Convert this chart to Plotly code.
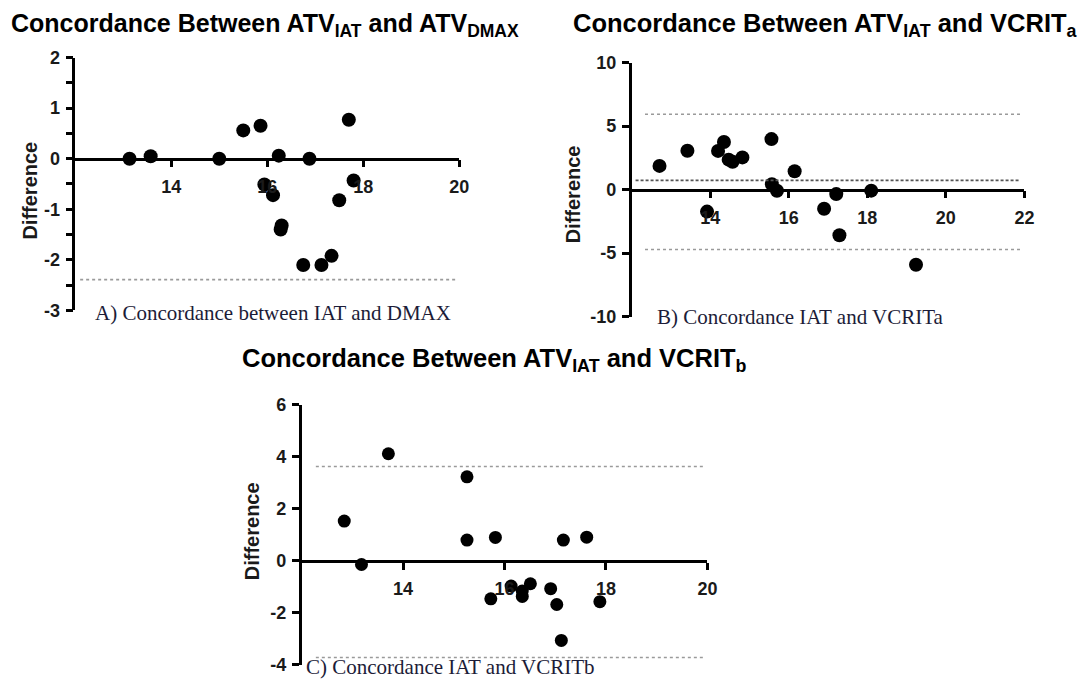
import plotly.graph_objects as go

PAGE_W, PAGE_H = 1086, 683
OFF = 8  # page body margin
W, H = PAGE_W - 2 * OFF, PAGE_H

# ---------------- data ----------------
# Panel A: ATV_IAT vs ATV_DMAX
a_mean = [13.13, 13.57, 15.0, 15.5, 15.86, 15.94, 16.12, 16.24, 16.3, 16.28,
          16.75, 16.88, 17.13, 17.34, 17.5, 17.7, 17.8]
a_diff = [0.0, 0.05, 0.0, 0.56, 0.65, -0.51, -0.72, 0.06, -1.32, -1.4,
          -2.1, 0.0, -2.1, -1.92, -0.82, 0.77, -0.43]
a_limits = [-2.39]
a_limit_x = [12.1, 19.95]

# Panel B: ATV_IAT vs VCRIT_a
b_mean = [12.71, 13.42, 13.92, 14.2, 14.35, 14.47, 14.57, 14.82, 15.56, 15.57,
          15.7, 16.15, 16.9, 17.21, 17.29, 18.1, 19.24]
b_diff = [1.86, 3.05, -1.74, 3.04, 3.74, 2.35, 2.18, 2.53, 3.97, 0.42,
          -0.1, 1.44, -1.52, -0.36, -3.6, -0.09, -5.92]
b_limits = [5.93, -4.72]
b_bias = [0.72]
b_limit_x = [12.34, 21.9]
b_bias_x = [12.1, 21.9]

# Panel C: ATV_IAT vs VCRIT_b
c_mean = [12.84, 13.18, 13.71, 15.26, 15.26, 15.82, 15.73, 16.13, 16.35, 16.35,
          16.51, 16.91, 17.03, 17.16, 17.12, 17.62, 17.88]
c_diff = [1.53, -0.14, 4.12, 3.23, 0.8, 0.9, -1.46, -0.97, -1.16, -1.37,
          -0.88, -1.07, -1.68, 0.8, -3.06, 0.91, -1.57]
c_limits = [3.63, -3.72]
c_limit_x = [12.28, 19.94]

a_xticks = [14, 16, 18, 20]
a_yticks = [-3, -2, -1, 0, 1, 2]
b_xticks = [14, 16, 18, 20, 22]
b_yticks = [-10, -5, 0, 5, 10]
c_xticks = [14, 16, 18, 20]
c_yticks = [-4, -2, 0, 2, 4, 6]

titles = ["Concordance Between ATV<sub>IAT</sub> and ATV<sub>DMAX</sub>",
          "Concordance Between ATV<sub>IAT</sub> and VCRIT<sub>a</sub>",
          "Concordance Between ATV<sub>IAT</sub> and VCRIT<sub>b</sub>"]
captions = ["A) Concordance between IAT and DMAX",
            "B) Concordance IAT and VCRITa",
            "C) Concordance IAT and VCRITb"]
y_title = "Difference"

# ---------------- layout helpers (page pixels -> paper fractions) ----------------
def px_x(p):
    return (p - OFF) / W

def px_y(p):
    return (H - (p - OFF)) / H

# empirical correction from target picture pixels to requested pixels
def fx(t):
    return (t + 3.5) / 0.9937

def fy(t):
    return (t - 10.9) / 0.967

panels = [
    dict(xd=(72, 457), yd=(58, 310), xr=[12, 20], yr=[-3, 2], xt=a_xticks, yt=a_yticks, minor=0.5),
    dict(xd=(630, 1024), yd=(63, 316), xr=[12, 22], yr=[-10, 10], xt=b_xticks, yt=b_yticks, minor=None),
    dict(xd=(299, 706), yd=(404, 663), xr=[12, 20], yr=[-4, 6], xt=c_xticks, yt=c_yticks, minor=None),
]

FONT = "Liberation Sans, Arial, sans-serif"
SERIF = "Liberation Serif, Times New Roman, serif"
TICKFONT = dict(family=FONT, size=18, color="#1a1a1a", weight="bold")

fig = go.Figure()

datasets = [(a_mean, a_diff), (b_mean, b_diff), (c_mean, c_diff)]
msizes = [14, 14, 13]
layout_axes = {}
for i, (p, (mx, dy)) in enumerate(zip(panels, datasets)):
    n = "" if i == 0 else str(i + 1)
    xa, ya = "x" + n, "y" + n
    xdom = [px_x(fx(p["xd"][0])), px_x(fx(p["xd"][1]))]
    ydom = [px_y(fy(p["yd"][1])), px_y(fy(p["yd"][0]))]
    lo, hi = p["yr"]
    zero_pos = ydom[0] + (0 - lo) / (hi - lo) * (ydom[1] - ydom[0])
    layout_axes["xaxis" + n] = dict(
        domain=xdom, range=p["xr"], anchor="free", position=zero_pos,
        showline=True, linecolor="black", linewidth=2.5,
        ticks="outside", ticklen=7, tickwidth=2.5, tickcolor="black",
        tickvals=p["xt"], ticktext=[str(v) for v in p["xt"]],
        showgrid=False, zeroline=False,
        tickfont=TICKFONT, ticklabelstandoff=4,
    )
    yax = dict(
        domain=ydom, range=p["yr"], anchor=xa,
        showline=True, linecolor="black", linewidth=2.5,
        ticks="outside", ticklen=7, tickwidth=2.5, tickcolor="black",
        tickvals=p["yt"], ticktext=[str(v) for v in p["yt"]],
        showgrid=False, zeroline=False,
        tickfont=TICKFONT, ticklabelstandoff=2,
    )
    if p["minor"]:
        yax["minor"] = dict(ticks="outside", dtick=p["minor"], ticklen=7, tickwidth=2.5, tickcolor="black")
    layout_axes["yaxis" + n] = yax

    fig.add_trace(go.Scatter(x=mx, y=dy, mode="markers", xaxis=xa, yaxis=ya,
                             marker=dict(color="black", size=msizes[i]),
                             cliponaxis=False, showlegend=False))

# limit lines
def hline(vals, xs, xa, ya, dash, color, width):
    for v in vals:
        fig.add_trace(go.Scatter(x=xs, y=[v, v], mode="lines", xaxis=xa, yaxis=ya,
                                 line=dict(color=color, width=width, dash=dash),
                                 showlegend=False, hoverinfo="skip"))

hline(a_limits, a_limit_x, "x", "y", "dot", "#9a9a9a", 1.6)
hline(b_limits, b_limit_x, "x2", "y2", "dot", "#9a9a9a", 1.6)
hline(b_bias, b_bias_x, "x2", "y2", "3px,2px", "#555", 1.6)
hline(c_limits, c_limit_x, "x3", "y3", "dot", "#9a9a9a", 1.6)

annotations = []
# requested page pixel positions
title_pos = [(10, 15), (577, 15.5), (243, 360)]
title_sizes = [25, 25.5, 25.5]
for t, (x0, yc), fs in zip(titles, title_pos, title_sizes):
    annotations.append(dict(text="<b>" + t + "</b>", x=px_x(x0), y=px_y(yc), xref="paper", yref="paper",
                            xanchor="left", yanchor="middle", showarrow=False, borderpad=0,
                            font=dict(family=FONT, size=fs, color="black")))
cap_pos = [(275, 312), (808, 316), (455, 677)]
for t, (xc, yc) in zip(captions, cap_pos):
    annotations.append(dict(text=t, x=px_x(xc), y=px_y(yc), xref="paper", yref="paper",
                            xanchor="center", yanchor="middle", showarrow=False,
                            font=dict(family=SERIF, size=21, color="#1c1c38")))
ytitle_pos = [(30, 186), (578, 190), (254, 537)]
for (xc, yc) in ytitle_pos:
    annotations.append(dict(text="<b>" + y_title + "</b>", x=px_x(xc), y=px_y(yc), xref="paper", yref="paper",
                            xanchor="center", yanchor="middle", showarrow=False, textangle=-90,
                            font=dict(family=FONT, size=20, color="#1a1a1a")))

fig.update_layout(
    width=W, height=H, margin=dict(l=0, r=0, t=0, b=0),
    paper_bgcolor="white", plot_bgcolor="white",
    annotations=annotations, showlegend=False,
    **layout_axes,
)

fig.write_html("out.html")
